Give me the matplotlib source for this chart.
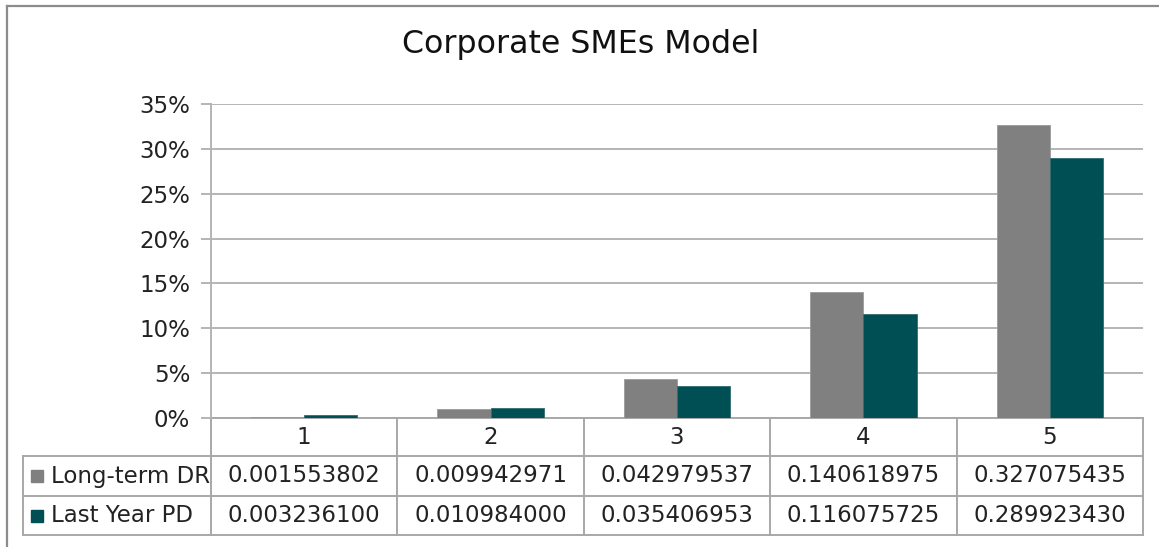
import numpy as np
import matplotlib.pyplot as plt
from matplotlib.lines import Line2D
from matplotlib.transforms import blended_transform_factory
from matplotlib.ticker import PercentFormatter

CATEGORIES = ["1", "2", "3", "4", "5"]
SERIES_NAMES = ["Long-term DR", "Last Year PD"]
LONG_TERM_DR = [0.001553802, 0.009942971, 0.042979537, 0.140618975, 0.327075435]
LAST_YEAR_PD = [0.003236100, 0.010984000, 0.035406953, 0.116075725, 0.289923430]
COLORS = ["#808080", "#004F55"]
TITLE = "Corporate SMEs Model"

W, H = 1159, 547
FONT = 16.5
GRID = "#b4b4b4"
LINE = "#a8a8a8"
TXT = "#222222"

plt.rcParams["font.family"] = ["DejaVu Sans"]
fig = plt.figure(figsize=(W / 100, H / 100), dpi=100)

# chart frame (left and top edges)
fig.lines.append(Line2D([7 / W, 7 / W], [0, 1 - 6 / H], transform=fig.transFigure,
                        color="#8c8c8c", linewidth=1.6))
fig.lines.append(Line2D([7 / W, 1], [1 - 6 / H, 1 - 6 / H], transform=fig.transFigure,
                        color="#8c8c8c", linewidth=1.6))

fig.text(581 / W, 1 - 45 / H, TITLE, ha="center", va="center", fontsize=22.8, color="#111111")

left, right, top, bottom = 211, 1143, 104, 418
ax = fig.add_axes([left / W, 1 - bottom / H, (right - left) / W, (bottom - top) / H])

x = np.arange(len(CATEGORIES))
bw = 0.285
ax.bar(x - bw / 2, LONG_TERM_DR, bw, color=COLORS[0], edgecolor="#9a9a9a", linewidth=0.6, zorder=3)
ax.bar(x + bw / 2, LAST_YEAR_PD, bw, color=COLORS[1], edgecolor="#2f6d72", linewidth=0.6, zorder=3)

ax.set_xlim(-0.5, len(CATEGORIES) - 0.5)
ax.set_ylim(0, 0.35)
ax.set_yticks(np.arange(0, 0.351, 0.05))
ax.yaxis.set_major_formatter(PercentFormatter(1.0, decimals=0))
ax.yaxis.grid(True, color=GRID, linewidth=1.4, zorder=0)
ax.set_xticks([])
for s in ["top", "right", "bottom"]:
    ax.spines[s].set_visible(False)
ax.spines["left"].set_color(GRID)
ax.spines["left"].set_linewidth(1.4)
ax.tick_params(axis="y", length=7, width=1.4, color=GRID, labelsize=FONT,
               labelcolor=TXT, pad=8)

# data table under the plot: x in data units, y in axes fraction
tr = blended_transform_factory(ax.transData, ax.transAxes)
px_per_unit = (right - left) / len(CATEGORIES)
label_left = -0.5 - (left - 23) / px_per_unit
ph = bottom - top
rows_y = [0, -(456 - bottom) / ph, -(496 - bottom) / ph, -(535 - bottom) / ph]

def hline(x0, x1, y):
    ax.plot([x0, x1], [y, y], color=LINE, linewidth=1.4, transform=tr, clip_on=False)

def vline(xv, y0, y1):
    ax.plot([xv, xv], [y0, y1], color=LINE, linewidth=1.4, transform=tr, clip_on=False)

hline(-0.5, len(CATEGORIES) - 0.5, rows_y[0])
for yv in rows_y[1:]:
    hline(label_left, len(CATEGORIES) - 0.5, yv)
vline(label_left, rows_y[1], rows_y[3])
for b in np.arange(-0.5, len(CATEGORIES), 1.0):
    vline(b, rows_y[0], rows_y[3])

for i, c in enumerate(CATEGORIES):
    ax.text(i, (rows_y[0] + rows_y[1]) / 2, c, transform=tr, ha="center", va="center",
            fontsize=FONT, color=TXT)

for r, (name, vals) in enumerate(zip(SERIES_NAMES, [LONG_TERM_DR, LAST_YEAR_PD])):
    yc = (rows_y[r + 1] + rows_y[r + 2]) / 2
    ax.plot([label_left + 14 / px_per_unit], [yc], marker="s", markersize=8,
            color=COLORS[r], transform=tr, clip_on=False, linestyle="none")
    ax.text(label_left + 28 / px_per_unit, yc, name, transform=tr, ha="left", va="center",
            fontsize=FONT, color=TXT, clip_on=False)
    for i, v in enumerate(vals):
        ax.text(i, yc, f"{v:.9f}", transform=tr, ha="center", va="center",
                fontsize=FONT, color=TXT)

fig.savefig("out.png", dpi=100)
